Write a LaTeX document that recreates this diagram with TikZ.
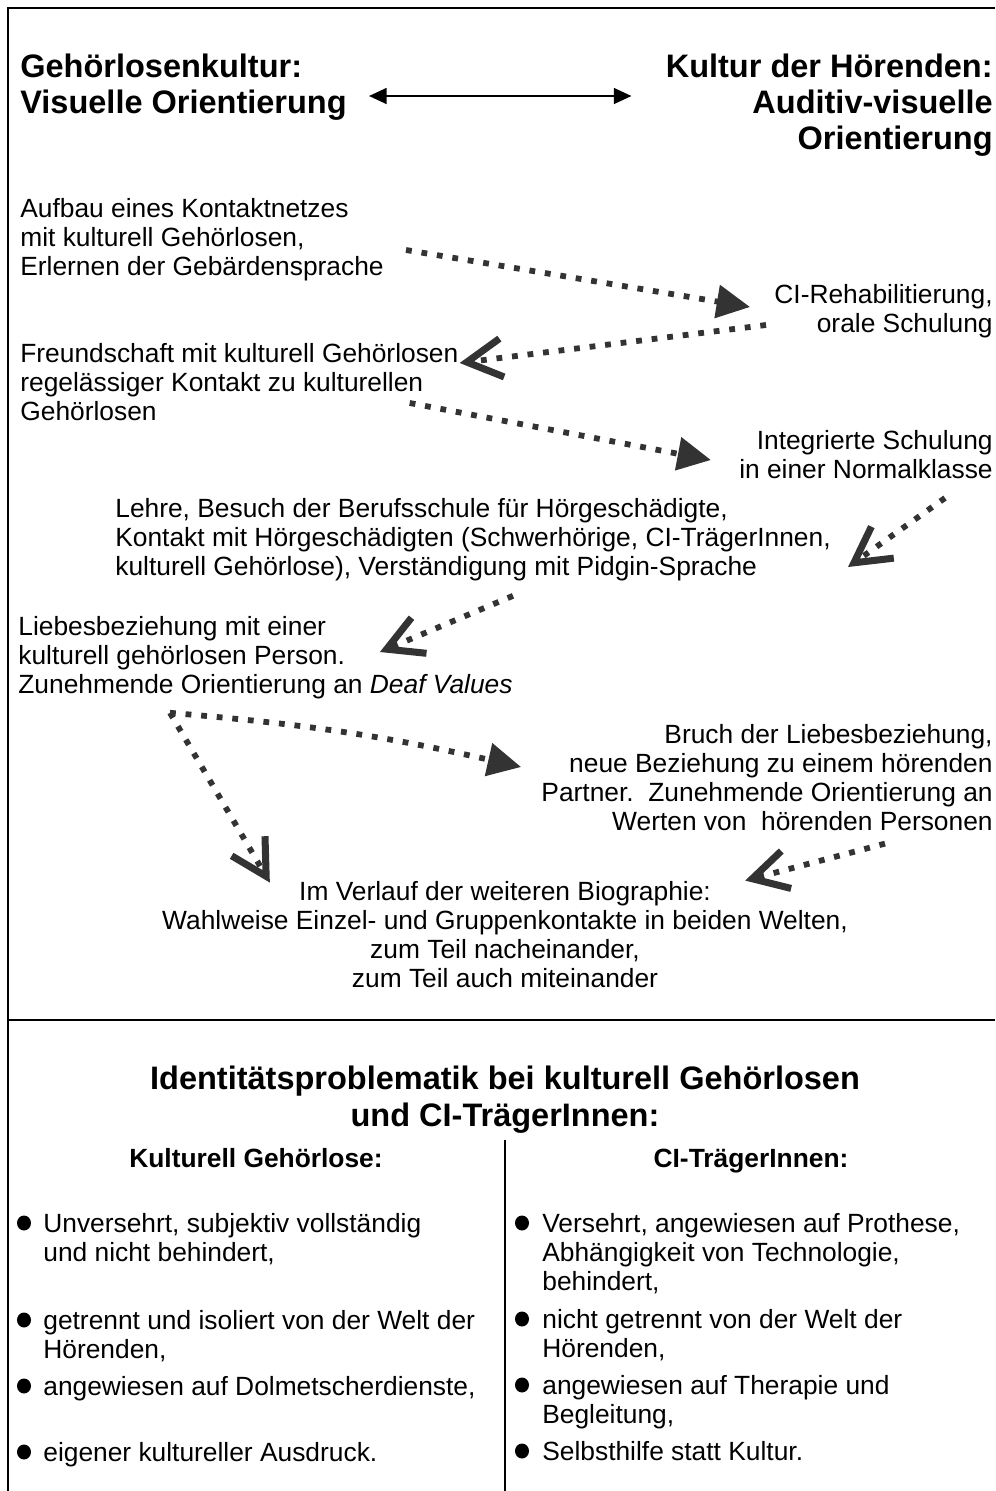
\documentclass[tikz,border=0pt]{standalone}
\usepackage{fontspec}
\setmainfont{Liberation Sans}
\usetikzlibrary{arrows.meta}
\newcommand{\bodyfont}{\fontsize{15}{16.5}\selectfont}
\newcommand{\headfont}{\fontsize{18.5}{20.4}\selectfont\bfseries}
\newcommand{\titlefont}{\fontsize{18.5}{21}\selectfont\bfseries}
\newcommand{\subfont}{\fontsize{15}{16.5}\selectfont\bfseries}
\def\listdot(#1,#2){\fill (#1, #2) ellipse (7 and 7.5);}

\begin{document}
\begin{tikzpicture}[x=0.02cm, y=-0.02cm,
		every node/.style={inner sep=0pt, font=\bodyfont},
		dotline/.style={line width=3.3pt, dash pattern=on 3.3pt off 5.6pt, black!80},
		fwdarrow/.style={dotline, -{Triangle[length=19pt, width=18.5pt]}},
		backarrow/.style={dotline, -{Straight Barb[length=20pt, width=22pt, line width=4pt]}}]
		%%%%% START %%%%%
		\useasboundingbox (0, 0) rectangle (995, 1491);
		\draw[line width=1.1pt] (8, 1491) -- (8, 8) -- (995, 8);
		\draw[line width=1.1pt] (8, 1020) -- (995, 1020);
		\draw[line width=0.8pt] (505, 1140) -- (505, 1491);
		
		% (base anchor = last line)
		\node[font=\headfont, anchor=base west, align=left] (kulturL) at (20, 113) {Gehörlosenkultur:\\Visuelle Orientierung};
		\node[font=\headfont, anchor=base east, align=right] (kulturR) at (993, 149) {Kultur der Hörenden:\\Auditiv-visuelle\\Orientierung};
		\draw[line width=1.1pt, {Triangle[length=10pt, width=9pt]}-{Triangle[length=10pt, width=9pt]}] ([shift={(22, -17)}]kulturL.base east) -- ([shift={(-34, -53)}]kulturR.base west);
		
		\node[anchor=base west, align=left] (aufbau) at (20, 275) {Aufbau eines Kontaktnetzes\\mit kulturell Gehörlosen,\\Erlernen der Gebärdensprache};
		\node[anchor=base east, align=right] (reha) at (993, 332) {CI-Rehabilitierung,\\orale Schulung};
		\node[anchor=base west, align=left] (freund) at (20, 420) {Freundschaft mit kulturell Gehörlosen\\regelässiger Kontakt zu kulturellen\\Gehörlosen};
		\node[anchor=base east, align=right] (integ) at (993, 478) {Integrierte Schulung\\in einer Normalklasse};
		\node[anchor=base west, align=left] (lehre) at (115, 575) {Lehre, Besuch der Berufsschule für Hörgeschädigte,\\Kontakt mit Hörgeschädigten (Schwerhörige, CI-TrägerInnen,\\kulturell Gehörlose), Verständigung mit Pidgin-Sprache};
		\node[anchor=base west, align=left] (liebe) at (18, 693) {Liebesbeziehung mit einer\\kulturell gehörlosen Person.\\Zunehmende Orientierung an \textit{Deaf Values}};
		\node[anchor=base east, align=right] (bruch) at (993, 830) {Bruch der Liebesbeziehung,\\neue Beziehung zu einem hörenden\\Partner.\ \ Zunehmende Orientierung an\\Werten von\ \ hörenden Personen};
		\node[anchor=base, align=center] (verlauf) at (505, 987) {Im Verlauf der weiteren Biographie:\\Wahlweise Einzel- und Gruppenkontakte in beiden Welten,\\zum Teil nacheinander,\\zum Teil auch miteinander};
		
		\draw[fwdarrow] ([shift={(22, -25)}]aufbau.base east) -- ([shift={(-24, -25)}]reha.base west);
		\draw[backarrow] ([shift={(-8, -7)}]reha.base west) -- ([shift={(1, -57)}]freund.base east);
		\draw[fwdarrow] ([shift={(-49, -17)}]freund.base east) -- ([shift={(-28, -18)}]integ.base west);
		\draw[backarrow] ([shift={(-48, 20)}]integ.base east) -- ([shift={(17, -8)}]lehre.base east);
		\draw[backarrow] ([shift={(40, 15)}]lehre.south) -- ([shift={(-133, -41)}]liebe.base east);
		\draw[fwdarrow] ([shift={(152, 14)}]liebe.south west) to[bend left=4] ([shift={(-20, -63)}]bruch.base west);
		\draw[backarrow] ([shift={(152, 14)}]liebe.south west) -- ([shift={(108, 2)}]verlauf.north west);
		\draw[backarrow] ([shift={(-108, 13)}]bruch.south east) -- ([shift={(-103, 0)}]verlauf.north east);
		
		\node[font=\titlefont, anchor=base, align=center] (identitaet) at (505, 1126) {Identitätsproblematik bei kulturell Gehörlosen\\und CI-TrägerInnen:};
		\node[font=\subfont, anchor=base] (gehoerlos) at (256, 1167) {Kulturell Gehörlose:};
		\node[font=\subfont, anchor=base] (traeger) at (751, 1167) {CI-TrägerInnen:};
		
		\listdot(24, 1223);
		\node[anchor=base west, align=left] (gl1) at (43, 1261) {Unversehrt, subjektiv vollständig\\und nicht behindert,};
		\listdot(24, 1320);
		\node[anchor=base west, align=left] (gl2) at (43, 1358) {getrennt und isoliert von der Welt der\\Hörenden,};
		\listdot(24, 1386);
		\node[anchor=base west] (gl3) at (43, 1395) {angewiesen auf Dolmetscherdienste,};
		\listdot(24, 1452);
		\node[anchor=base west] (gl4) at (43, 1461) {eigener kultureller Ausdruck.};
		
		\listdot(522, 1223);
		\node[anchor=base west, align=left] (ci1) at (542, 1290) {Versehrt, angewiesen auf Prothese,\\Abhängigkeit von Technologie,\\behindert,};
		\listdot(522, 1319);
		\node[anchor=base west, align=left] (ci2) at (542, 1357) {nicht getrennt von der Welt der\\Hörenden,};
		\listdot(522, 1385);
		\node[anchor=base west, align=left] (ci3) at (542, 1423) {angewiesen auf Therapie und\\Begleitung,};
		\listdot(522, 1451);
		\node[anchor=base west] (ci4) at (542, 1460) {Selbsthilfe statt Kultur.};
		%%%%% END %%%%%
\end{tikzpicture}
\end{document}
